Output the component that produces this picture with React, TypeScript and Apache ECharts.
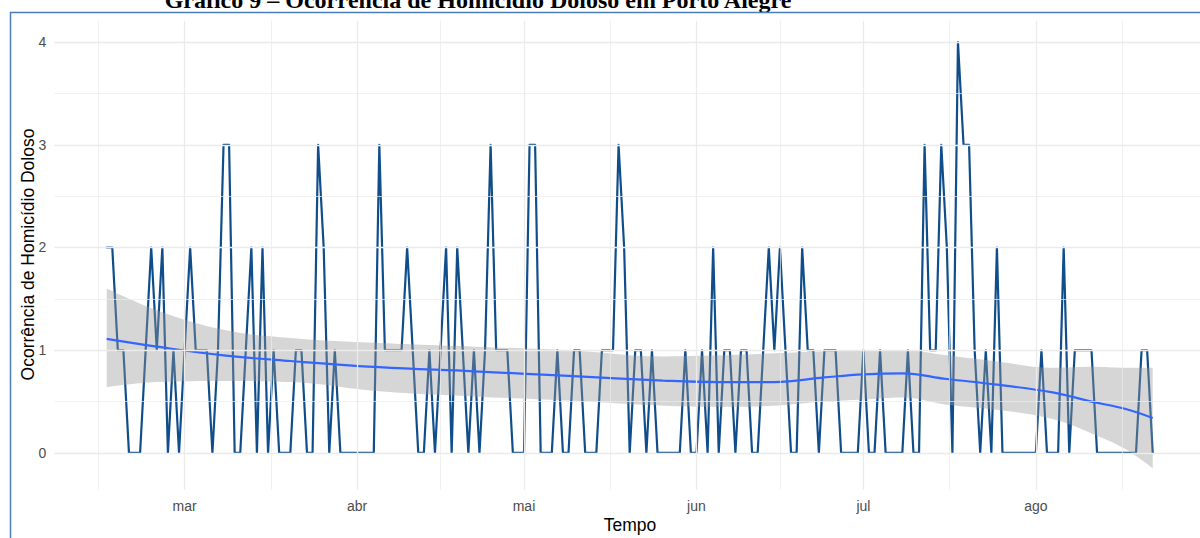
import React, { useEffect, useRef } from "react";
import * as echarts from "echarts";

// ---- data ----
const startDate = "2020-02-16"; // first day of the series
const homicides = [
  2, 2, 1, 1, 0, 0, 0, 1, 2, 1,
  2, 0, 1, 0, 1, 2, 1, 1, 1, 0,
  1, 3, 3, 0, 0, 1, 2, 0, 2, 0,
  1, 0, 0, 0, 1, 1, 0, 0, 3, 2,
  0, 1, 0, 0, 0, 0, 0, 0, 0, 3,
  1, 1, 1, 1, 2, 1, 0, 0, 1, 0,
  1, 2, 0, 2, 1, 0, 1, 0, 1, 3,
  1, 1, 1, 0, 0, 0, 3, 3, 0, 0,
  0, 1, 0, 0, 1, 1, 0, 0, 0, 1,
  1, 1, 3, 2, 0, 1, 1, 0, 1, 0,
  0, 0, 0, 0, 1, 0, 0, 1, 0, 2,
  0, 1, 1, 0, 1, 1, 0, 0, 1, 2,
  1, 2, 1, 0, 0, 2, 1, 1, 0, 1,
  1, 1, 0, 0, 0, 0, 1, 0, 0, 1,
  0, 0, 0, 0, 1, 0, 0, 3, 1, 1,
  3, 2, 0, 4, 3, 3, 1, 0, 1, 0,
  2, 0, 0, 0, 0, 0, 0, 0, 1, 0,
  0, 0, 2, 0, 1, 1, 1, 1, 0, 0,
  0, 0, 0, 0, 0, 0, 1, 1, 0,
];

// loess smooth (day offset from startDate)
const smoothDays = [0, 9, 21, 33, 49, 66, 83, 100, 110, 120, 129, 136, 143, 151, 160, 170, 177, 183, 188];
const smoothFit = [1.11, 1.035, 0.95, 0.895, 0.835, 0.795, 0.75, 0.705, 0.69, 0.69, 0.735, 0.765, 0.775, 0.72, 0.665, 0.59, 0.5, 0.43, 0.34];
const smoothLower = [0.64, 0.69, 0.7, 0.69, 0.6, 0.55, 0.51, 0.46, 0.45, 0.46, 0.5, 0.52, 0.54, 0.47, 0.42, 0.33, 0.19, 0.04, -0.15];
const smoothUpper = [1.6, 1.39, 1.2, 1.12, 1.07, 1.035, 1.0, 0.94, 0.95, 0.97, 0.99, 1.0, 1.0, 0.95, 0.89, 0.83, 0.84, 0.83, 0.83];

const monthStarts = ["2020-03-01", "2020-04-01", "2020-05-01", "2020-06-01", "2020-07-01", "2020-08-01"];
const monthLabels = ["mar", "abr", "mai", "jun", "jul", "ago"];
const yBreaks = [0, 1, 2, 3, 4];

const titleText = "Gráfico 9 – Ocorrência de Homicídio Doloso em Porto Alegre";
const xTitle = "Tempo";
const yTitle = "Ocorrência de Homicídio Doloso";

const DAY = 86400000;

export default function App() {
  const ref = useRef<HTMLDivElement>(null);

  useEffect(() => {
    if (!ref.current) return;
    const chart = echarts.init(ref.current, undefined, { renderer: "svg" });

    const t0 = Date.parse(startDate + "T00:00:00Z");
    const dataPts = homicides.map((v, i) => [t0 + i * DAY, v]);
    const fitPts = smoothDays.map((d, i) => [t0 + d * DAY, smoothFit[i]]);
    const lowPts = smoothDays.map((d, i) => [t0 + d * DAY, smoothLower[i]]);
    const bandPts = smoothDays.map((d, i) => [t0 + d * DAY, smoothUpper[i] - smoothLower[i]]);

    // ggplot-like expansion (5%)
    const xFirst = dataPts[0][0];
    const xLast = dataPts[dataPts.length - 1][0];
    const xSpan = xLast - xFirst;
    const xMin = xFirst - 0.05 * xSpan;
    const xMax = xLast + 0.05 * xSpan;
    const yLo = Math.min(...smoothLower, ...homicides);
    const yHi = Math.max(...smoothUpper, ...homicides);
    const ySpan = yHi - yLo;
    const yMin = yLo - 0.05 * ySpan;
    const yMax = yHi + 0.05 * ySpan;

    const majors = monthStarts.map((s) => Date.parse(s + "T00:00:00Z"));
    const bd = majors[1] - majors[0];
    const ext = [majors[0] - bd, ...majors, majors[majors.length - 1] + bd];
    const minors: number[] = [];
    for (let i = 0; i < ext.length - 1; i++) minors.push((ext[i] + ext[i + 1]) / 2);
    const yMinors: number[] = [];
    for (let i = 0; i < yBreaks.length - 1; i++) yMinors.push((yBreaks[i] + yBreaks[i + 1]) / 2);

    const font = "'Liberation Sans', Arial, sans-serif";

    const gridLines: any[] = [];
    minors.filter((m) => m > xMin && m < xMax).forEach((m) =>
      gridLines.push({ xAxis: m, lineStyle: { width: 0.7 }, label: { show: false } })
    );
    yMinors.forEach((m) => gridLines.push({ yAxis: m, lineStyle: { width: 0.7 }, label: { show: false } }));
    majors.forEach((m, i) =>
      gridLines.push({
        xAxis: m,
        lineStyle: { width: 1.3 },
        label: {
          show: true,
          position: "start",
          formatter: monthLabels[i],
          color: "#4d4d4d",
          fontSize: 14,
          fontFamily: font,
          distance: 9,
        },
      })
    );
    yBreaks.forEach((m) => gridLines.push({ yAxis: m, lineStyle: { width: 1.3 }, label: { show: false } }));

    chart.setOption({
      animation: false,
      backgroundColor: "#ffffff",
      grid: { left: 54.4, right: 5, top: 20.7, bottom: 48.3, containLabel: false },
      xAxis: {
        type: "time",
        min: xMin,
        max: xMax,
        axisLine: { show: false },
        axisTick: { show: false },
        splitLine: { show: false },
        axisLabel: { show: false },
      },
      yAxis: {
        type: "value",
        min: yMin,
        max: yMax,
        splitNumber: 5,
        axisLine: { show: false },
        axisTick: { show: false },
        splitLine: { show: false },
        axisLabel: {
          formatter: (v: number) => (Math.abs(v - Math.round(v)) < 1e-9 ? String(Math.round(v)) : ""),
          color: "#4d4d4d",
          fontSize: 14,
          fontFamily: font,
          margin: 8,
        },
      },
      graphic: [
        {
          type: "rect",
          shape: { x: 10.5, y: 12.5, width: 1400, height: 700 },
          style: { fill: "none", stroke: "#4a7ebb", lineWidth: 1.5 },
          silent: true,
          z: 100,
        },
        {
          type: "text",
          x: 478,
          y: 0,
          style: {
            text: titleText,
            fill: "#000000",
            font: "bold 24px 'Liberation Serif', 'Times New Roman', serif",
            textAlign: "center",
            textVerticalAlign: "middle",
          },
          silent: true,
        },
        {
          type: "text",
          x: 28,
          y: 254.5,
          rotation: Math.PI / 2,
          style: {
            text: yTitle,
            fill: "#000000",
            font: "17.5px 'Liberation Sans', Arial, sans-serif",
            textAlign: "center",
            textVerticalAlign: "middle",
          },
          silent: true,
        },
        {
          type: "text",
          x: 630,
          y: 525,
          style: {
            text: xTitle,
            fill: "#000000",
            font: "17.5px 'Liberation Sans', Arial, sans-serif",
            textAlign: "center",
            textVerticalAlign: "middle",
          },
          silent: true,
        },
      ],
      series: [
        {
          name: "grid",
          type: "line",
          data: [dataPts[0], dataPts[dataPts.length - 1]],
          symbol: "none",
          lineStyle: { opacity: 0, width: 0 },
          silent: true,
          z: 1,
          markLine: {
            silent: true,
            symbol: ["none", "none"],
            lineStyle: { type: "solid", color: "#ebebeb" },
            emphasis: { disabled: true },
            data: gridLines,
          },
        },
        {
          name: "homicidios",
          type: "line",
          data: dataPts,
          symbol: "none",
          lineStyle: { color: "#104E8B", width: 2.2, join: "round", cap: "round" },
          z: 2,
        },
        {
          name: "ci_low",
          type: "line",
          data: lowPts,
          stack: "ci",
          stackStrategy: "all",
          smooth: 0.4,
          symbol: "none",
          lineStyle: { opacity: 0, width: 0 },
          z: 3,
        },
        {
          name: "ci_band",
          type: "line",
          data: bandPts,
          stack: "ci",
          stackStrategy: "all",
          smooth: 0.4,
          symbol: "none",
          lineStyle: { opacity: 0, width: 0 },
          areaStyle: { color: "#999999", opacity: 0.4 },
          z: 3,
        },
        {
          name: "loess",
          type: "line",
          data: fitPts,
          smooth: 0.4,
          symbol: "none",
          lineStyle: { color: "#3366FF", width: 2.2 },
          z: 4,
        },
      ],
    });

    return () => chart.dispose();
  }, []);

  return (
    <div style={{ position: "absolute", left: 0, top: 0, width: 1200, height: 538, overflow: "hidden", background: "#fff" }}>
      <div ref={ref} style={{ width: 1210, height: 538 }} />
    </div>
  );
}
